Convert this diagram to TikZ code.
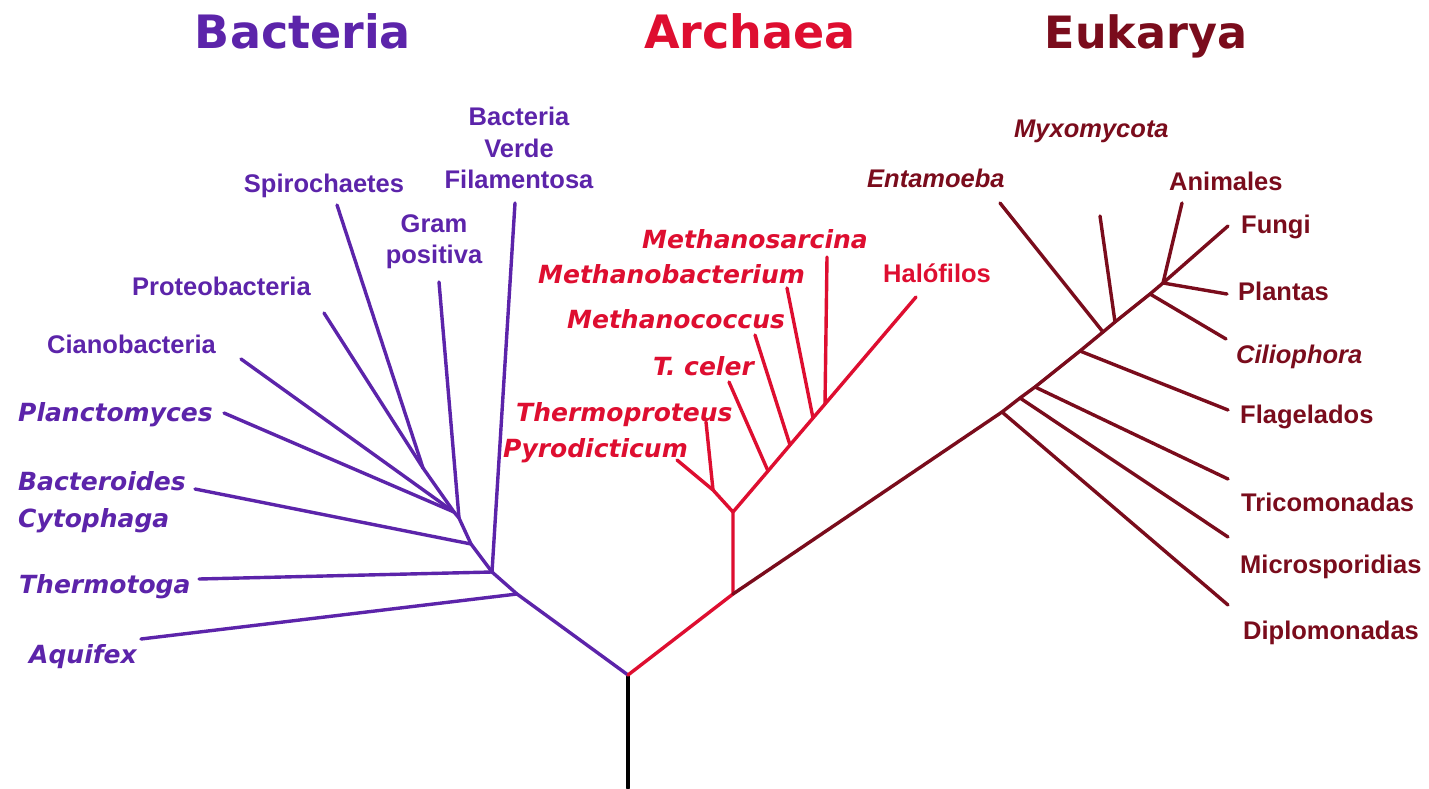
\documentclass[tikz,border=0pt]{standalone}
\usepackage{fontspec}
\setmainfont{Liberation Sans}
\newfontfamily\dejavu{DejaVu Sans}
\definecolor{bactc}{RGB}{92,36,170}
\definecolor{archc}{RGB}{222,14,48}
\definecolor{eukc}{RGB}{122,12,28}
\begin{document}
\begin{tikzpicture}[x=1bp,y=-1bp,
  br/.style={line width=3.4bp,line cap=round,line join=round},
  bline/.style={br,draw=bactc},
  aline/.style={br,draw=archc},
  eline/.style={br,draw=eukc},
  ttl/.style={inner sep=0,anchor=base,font=\dejavu\bfseries\fontsize{46bp}{50bp}\selectfont},
  up/.style={inner sep=0,font=\bfseries\fontsize{25.5bp}{31bp}\selectfont},
  itd/.style={inner sep=0,font=\dejavu\bfseries\itshape\fontsize{25bp}{30bp}\selectfont},
  ita/.style={inner sep=0,font=\bfseries\itshape\fontsize{25.5bp}{30bp}\selectfont},
]
\useasboundingbox[fill=white] (0,0) rectangle (1429,788);

% ---------- titles ----------
\node[ttl,text=bactc] (tB) at (303,49) {Bacteria};
\node[ttl,text=archc] (tA) at (750,49) {Archaea};
\node[ttl,text=eukc,font=\dejavu\bfseries\fontsize{44.5bp}{50bp}\selectfont] (tE) at (1146,49) {Eukarya};

% ---------- root ----------
\coordinate (base) at (628,788);
\coordinate (R) at (628,675);
\draw[br,draw=black] (base) -- (R);

% ---------- Bacteria ----------
\coordinate (b1) at (517,594);
\coordinate (b2) at (492,572);
\coordinate (b3) at (471,544);
\coordinate (b4) at (459,518);
\coordinate (b5) at (454,512);
\coordinate (b6) at (423,468);
\coordinate (lAqu) at (141,639);
\coordinate (lThe) at (199,579);
\coordinate (lBac) at (195,489);
\coordinate (lPla) at (224,413);
\coordinate (lCia) at (241,359);
\coordinate (lPro) at (324,313);
\coordinate (lSpi) at (337,205);
\coordinate (lGra) at (439,282);
\coordinate (lVer) at (515,203);
\draw[bline] (R) -- (b1) -- (b2) -- (b3) -- (b4) -- (b5) -- (b6);
\draw[bline] (b1) -- (lAqu);
\draw[bline] (b2) -- (lThe);
\draw[bline] (b2) -- (lVer);
\draw[bline] (b3) -- (lBac);
\draw[bline] (b4) -- (lGra);
\draw[bline] (b5) -- (lPla);
\draw[bline] (b5) -- (lCia);
\draw[bline] (b6) -- (lPro);
\draw[bline] (b6) -- (lSpi);

\node[up,text=bactc,anchor=base] (nVer1) at (519,125) {Bacteria};
\node[up,text=bactc,anchor=base] (nVer2) at (519,157) {Verde};
\node[up,text=bactc,anchor=base] (nVer3) at (519,188) {Filamentosa};
\node[up,text=bactc,anchor=base] (nSpi) at (324,192) {Spirochaetes};
\node[up,text=bactc,anchor=base] (nGra1) at (434,232) {Gram};
\node[up,text=bactc,anchor=base] (nGra2) at (434,263) {positiva};
\node[up,text=bactc,anchor=base west] (nPro) at (132,295) {Proteobacteria};
\node[up,text=bactc,anchor=base west] (nCia) at (47,353) {Cianobacteria};
\node[itd,text=bactc,anchor=base west] (nPla) at (18,421) {Planctomyces};
\node[itd,text=bactc,anchor=base west] (nBac1) at (18,490) {Bacteroides};
\node[itd,text=bactc,anchor=base west] (nBac2) at (18,527) {Cytophaga};
\node[itd,text=bactc,anchor=base west] (nThe) at (19,593) {Thermotoga};
\node[itd,text=bactc,anchor=base west] (nAqu) at (29,663) {Aquifex};

% ---------- Archaea ----------
\coordinate (a1) at (733,594);
\coordinate (a2) at (733,512);
\coordinate (a3) at (713,490);
\coordinate (a4) at (768,471);
\coordinate (a5) at (790,445);
\coordinate (a6) at (813,418);
\coordinate (a7) at (825,404);
\coordinate (lHal) at (916,297);
\coordinate (lPyr) at (677,460);
\coordinate (lThp) at (706,422);
\coordinate (lTce) at (729,382);
\coordinate (lMco) at (755,335);
\coordinate (lMba) at (787,288);
\coordinate (lMsa) at (827,257);
\draw[aline] (R) -- (a1) -- (a2) -- (a4) -- (a5) -- (a6) -- (a7) -- (lHal);
\draw[aline] (a2) -- (a3) -- (lPyr);
\draw[aline] (a3) -- (lThp);
\draw[aline] (a4) -- (lTce);
\draw[aline] (a5) -- (lMco);
\draw[aline] (a6) -- (lMba);
\draw[aline] (a7) -- (lMsa);

\node[itd,text=archc,anchor=base west] (nMsa) at (642,248) {Methanosarcina};
\node[itd,text=archc,anchor=base west] (nMba) at (538,283) {Methanobacterium};
\node[itd,text=archc,anchor=base west] (nMco) at (567,328) {Methanococcus};
\node[itd,text=archc,anchor=base west] (nTce) at (653,375) {T. celer};
\node[itd,text=archc,anchor=base west] (nThp) at (516,421) {Thermoproteus};
\node[itd,text=archc,anchor=base west] (nPyr) at (503,457) {Pyrodicticum};
\node[up,text=archc,anchor=base west] (nHal) at (883,282) {Halófilos};

% ---------- Eukarya ----------
\coordinate (e1) at (1002,412);
\coordinate (e2) at (1020,398);
\coordinate (e3) at (1035,387);
\coordinate (e4) at (1080,351);
\coordinate (e5) at (1103,332);
\coordinate (e6) at (1115,322);
\coordinate (e7) at (1150,294);
\coordinate (e8) at (1163,283);
\coordinate (lDip) at (1228,605);
\coordinate (lMic) at (1228,537);
\coordinate (lTri) at (1228,479);
\coordinate (lFla) at (1228,410);
\coordinate (lEnt) at (1000,203);
\coordinate (lMyx) at (1100,216);
\coordinate (lCil) at (1226,339);
\coordinate (lAni) at (1182,203);
\coordinate (lFun) at (1228,226);
\coordinate (lPln) at (1227,294);
\draw[eline] (a1) -- (e1) -- (e2) -- (e3) -- (e4) -- (e5) -- (e6) -- (e7) -- (e8);
\draw[eline] (e1) -- (lDip);
\draw[eline] (e2) -- (lMic);
\draw[eline] (e3) -- (lTri);
\draw[eline] (e4) -- (lFla);
\draw[eline] (e5) -- (lEnt);
\draw[eline] (e6) -- (lMyx);
\draw[eline] (e7) -- (lCil);
\draw[eline] (e8) -- (lAni);
\draw[eline] (e8) -- (lFun);
\draw[eline] (e8) -- (lPln);

\node[ita,text=eukc,anchor=base west] (nMyx) at (1014,137) {Myxomycota};
\node[ita,text=eukc,anchor=base west] (nEnt) at (867,187) {Entamoeba};
\node[up,text=eukc,anchor=base west] (nAni) at (1169,190) {Animales};
\node[up,text=eukc,anchor=base west] (nFun) at (1241,233) {Fungi};
\node[up,text=eukc,anchor=base west] (nPln) at (1238,300) {Plantas};
\node[ita,text=eukc,anchor=base west] (nCil) at (1236,363) {Ciliophora};
\node[up,text=eukc,anchor=base west] (nFla) at (1240,423) {Flagelados};
\node[up,text=eukc,anchor=base west] (nTri) at (1241,511) {Tricomonadas};
\node[up,text=eukc,anchor=base west] (nMic) at (1240,573) {Microsporidias};
\node[up,text=eukc,anchor=base west] (nDip) at (1243,639) {Diplomonadas};
\end{tikzpicture}
\end{document}
